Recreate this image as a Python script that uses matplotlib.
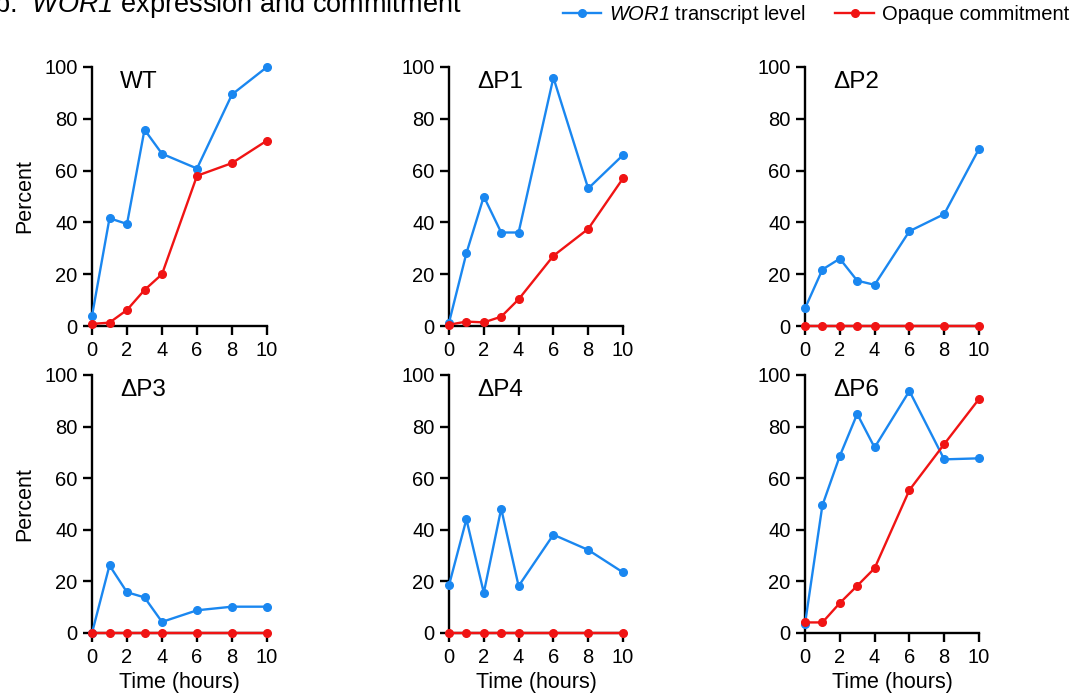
import matplotlib
matplotlib.use("Agg")
import matplotlib.pyplot as plt

plt.rcParams['font.family'] = ['Liberation Sans', 'DejaVu Sans']
plt.rcParams['mathtext.fontset'] = 'custom'
plt.rcParams['mathtext.it'] = 'Liberation Sans:italic'
plt.rcParams['mathtext.rm'] = 'Liberation Sans:italic'

time_h = [0, 1, 2, 3, 4, 6, 8, 10]
panels = ["WT", "ΔP1", "ΔP2", "ΔP3", "ΔP4", "ΔP6"]

wor1_wt = [3.9, 41.6, 39.4, 75.8, 66.5, 60.8, 89.4, 100]
opq_wt = [0.8, 1.3, 6.2, 13.9, 20.0, 58.0, 62.9, 71.6]
wor1_p1 = [1.3, 28.1, 50.0, 36.1, 36.1, 95.9, 53.1, 66.0]
opq_p1 = [0.5, 1.7, 1.4, 3.6, 10.3, 27.1, 37.5, 57.0]
wor1_p2 = [6.8, 21.8, 26.0, 17.5, 15.9, 36.6, 43.2, 68.4]
opq_p2 = [0, 0, 0, 0, 0, 0, 0, 0]
wor1_p3 = [0, 26.2, 15.8, 13.8, 4.3, 8.8, 10.2, 10.2]
opq_p3 = [0, 0, 0, 0, 0, 0, 0, 0]
wor1_p4 = [18.5, 44.1, 15.6, 48.2, 18.2, 38.1, 32.2, 23.5]
opq_p4 = [0, 0, 0, 0, 0, 0, 0, 0]
wor1_p6 = [3.5, 49.5, 68.6, 84.9, 71.9, 93.8, 67.3, 67.7]
opq_p6 = [4.1, 4.1, 11.6, 18.3, 25.1, 55.4, 73.2, 90.7]

wor1_all = [wor1_wt, wor1_p1, wor1_p2, wor1_p3, wor1_p4, wor1_p6]
opq_all = [opq_wt, opq_p1, opq_p2, opq_p3, opq_p4, opq_p6]

x_ticks = [0, 2, 4, 6, 8, 10]
y_ticks = [0, 20, 40, 60, 80, 100]

BLUE = '#1a87f0'
RED = '#f01414'

fig = plt.figure(figsize=(10.72, 7.0), dpi=100)
W, H = 1072, 700
lefts = [92, 449, 805]
widths = [175, 174, 174]
rows = [(67, 326), (375, 633)]

for i, name in enumerate(panels):
    r, c = divmod(i, 3)
    top, bot = rows[r]
    ax = fig.add_axes([lefts[c] / W, 1 - bot / H, widths[c] / W, (bot - top) / H])
    l1, = ax.plot(time_h, wor1_all[i], color=BLUE, lw=1.7, marker='o', ms=5.5, clip_on=False, zorder=3)
    l2, = ax.plot(time_h, opq_all[i], color=RED, lw=1.7, marker='o', ms=5.5, clip_on=False, zorder=4)
    ax.set_xlim(0, 10)
    ax.set_ylim(0, 100)
    ax.set_xticks(x_ticks)
    ax.set_yticks(y_ticks)
    for s in ['top', 'right']:
        ax.spines[s].set_visible(False)
    for s in ['left', 'bottom']:
        ax.spines[s].set_linewidth(1.7)
        ax.spines[s].set_color('black')
    ax.tick_params(direction='out', length=6.5, width=1.7, labelsize=14.5, pad=4)
    ax.text(0.16, 0.985, name, transform=ax.transAxes, ha='left', va='top', fontsize=17.5)
    if c == 0:
        ax.set_ylabel('Percent', fontsize=15.5, labelpad=6)
    if r == 1:
        ax.set_xlabel('Time (hours)', fontsize=15.5, labelpad=4)

fig.text(-6 / W, 1 - 12 / H, r'b.  $\mathit{WOR1}$ expression and commitment', fontsize=19.5,
         ha='left', va='baseline')

fig.legend([l1, l2], [r'$\mathit{WOR1}$ transcript level', 'Opaque commitment'],
           loc='upper right', bbox_to_anchor=(1.0, 1.0), ncol=2, frameon=False,
           fontsize=14.5, handlelength=1.9, handletextpad=0.4, columnspacing=1.5,
           borderaxespad=0.15, borderpad=0.0)

fig.savefig('out.png', dpi=100)
